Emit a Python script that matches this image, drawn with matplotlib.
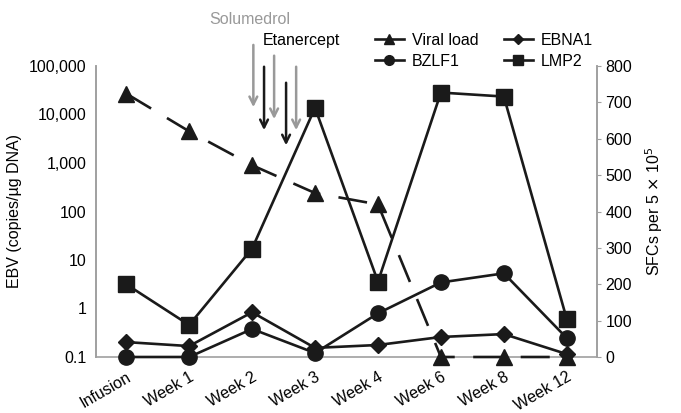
import numpy as np
import matplotlib.pyplot as plt
from matplotlib.lines import Line2D

# data
labels = ['Infusion', 'Week 1', 'Week 2', 'Week 3', 'Week 4', 'Week 6', 'Week 8', 'Week 12']
viral_load = [27000, 4500, 900, 240, 140, 0.1, 0.1, 0.1]   # copies/ug DNA (left, log)
ebna1 = [41, 30, 123, 25, 33, 55, 63, 8]                  # SFCs (right)
bzlf1 = [0, 0, 77, 11, 120, 205, 230, 52]
lmp2 = [200, 88, 298, 685, 207, 727, 716, 104]

# treatment arrows: x position (in week-index units), top and tip (axes fraction)
solumedrol_x = [2.02, 2.35, 2.70]
solumedrol_top = [1.082, 1.045, 1.007]
solumedrol_tip = [0.849, 0.808, 0.770]
etanercept_x = [2.19, 2.54]
etanercept_top = [1.007, 0.952]
etanercept_tip = [0.770, 0.718]

plt.rcParams['font.family'] = ['Liberation Sans', 'DejaVu Sans']
fs = 11.5
x = np.arange(len(labels))

fig = plt.figure(figsize=(6.81, 4.13), dpi=100)
ax = fig.add_axes([96 / 681, 1 - 357 / 413, (597 - 96) / 681, (357 - 66) / 413])
ax2 = ax.twinx()
# keep the log axis (viral load) on top so its dashes show over the bottom spine
ax.set_zorder(ax2.get_zorder() + 1)
ax.patch.set_visible(False)

ax.set_yscale('log')
ax.set_ylim(0.1, 100000)
ax.set_xlim(-0.48, 7.48)
ax.set_yticks([0.1, 1, 10, 100, 1000, 10000, 100000])
ax.set_yticklabels(['0.1', '1', '10', '100', '1,000', '10,000', '100,000'])
ax.minorticks_off()
ax.tick_params(axis='y', length=0, labelsize=fs, pad=7)
ax.set_xticks(x)
ax.set_xticklabels(labels, rotation=30, ha='right', rotation_mode='anchor', fontsize=fs)
ax.tick_params(axis='x', length=0, pad=9)
ax.set_ylabel('EBV (copies/\u00b5g DNA)', fontsize=fs, labelpad=5)

ax2.set_ylim(0, 800)
ax2.set_yticks(range(0, 801, 100))
ax2.tick_params(axis='y', length=3, color='#a0a0a0', labelsize=fs, pad=3)
ax2.set_ylabel(r'SFCs per 5 $\times$ 10$^5$', fontsize=fs, labelpad=8)

for a in (ax, ax2):
    a.spines['top'].set_visible(False)
    for s in ('left', 'right', 'bottom'):
        a.spines[s].set_color('#a0a0a0')
        a.spines[s].set_linewidth(1.2)
# bottom spine only from the lower axes, so markers sit over it
ax.spines['bottom'].set_visible(False)

col = '#1a1a1a'
ax.plot(x, viral_load, color=col, lw=1.9, dashes=(11, 7), marker='^', ms=11, clip_on=False, zorder=5)
ax2.plot(x, ebna1, color=col, lw=1.9, marker='D', ms=8, clip_on=False, zorder=5)
ax2.plot(x, bzlf1, color=col, lw=1.9, marker='o', ms=11, clip_on=False, zorder=5)
ax2.plot(x, lmp2, color=col, lw=1.9, marker='s', ms=11, clip_on=False, zorder=5)

# arrows for treatments
for xi, t, b in zip(solumedrol_x, solumedrol_top, solumedrol_tip):
    ax.annotate('', xy=(xi, b), xytext=(xi, t), xycoords=('data', 'axes fraction'),
                textcoords=('data', 'axes fraction'),
                arrowprops=dict(arrowstyle='->', color='#999999', lw=1.8, mutation_scale=14),
                annotation_clip=False)
for xi, t, b in zip(etanercept_x, etanercept_top, etanercept_tip):
    ax.annotate('', xy=(xi, b), xytext=(xi, t), xycoords=('data', 'axes fraction'),
                textcoords=('data', 'axes fraction'),
                arrowprops=dict(arrowstyle='->', color=col, lw=1.8, mutation_scale=14),
                annotation_clip=False)
fig.text(250 / 681, 1 - 19 / 413, 'Solumedrol', color='#999999', fontsize=fs, ha='center', va='center')
fig.text(301 / 681, 1 - 40 / 413, 'Etanercept', color='black', fontsize=fs, ha='center', va='center')

handles = [Line2D([], [], color=col, lw=1.9, marker='^', ms=7),
           Line2D([], [], color=col, lw=1.9, marker='o', ms=7),
           Line2D([], [], color=col, lw=1.9, marker='D', ms=5),
           Line2D([], [], color=col, lw=1.9, marker='s', ms=7)]
fig.legend(handles, ['Viral load', 'BZLF1', 'EBNA1', 'LMP2'], ncol=2, frameon=False,
           loc='upper left', bbox_to_anchor=(375 / 681, 1 - 33 / 413), fontsize=fs,
           handlelength=1.8, handletextpad=0.5, columnspacing=1.6, labelspacing=0.35,
           borderpad=0, borderaxespad=0)

fig.savefig('out.png', dpi=100)
